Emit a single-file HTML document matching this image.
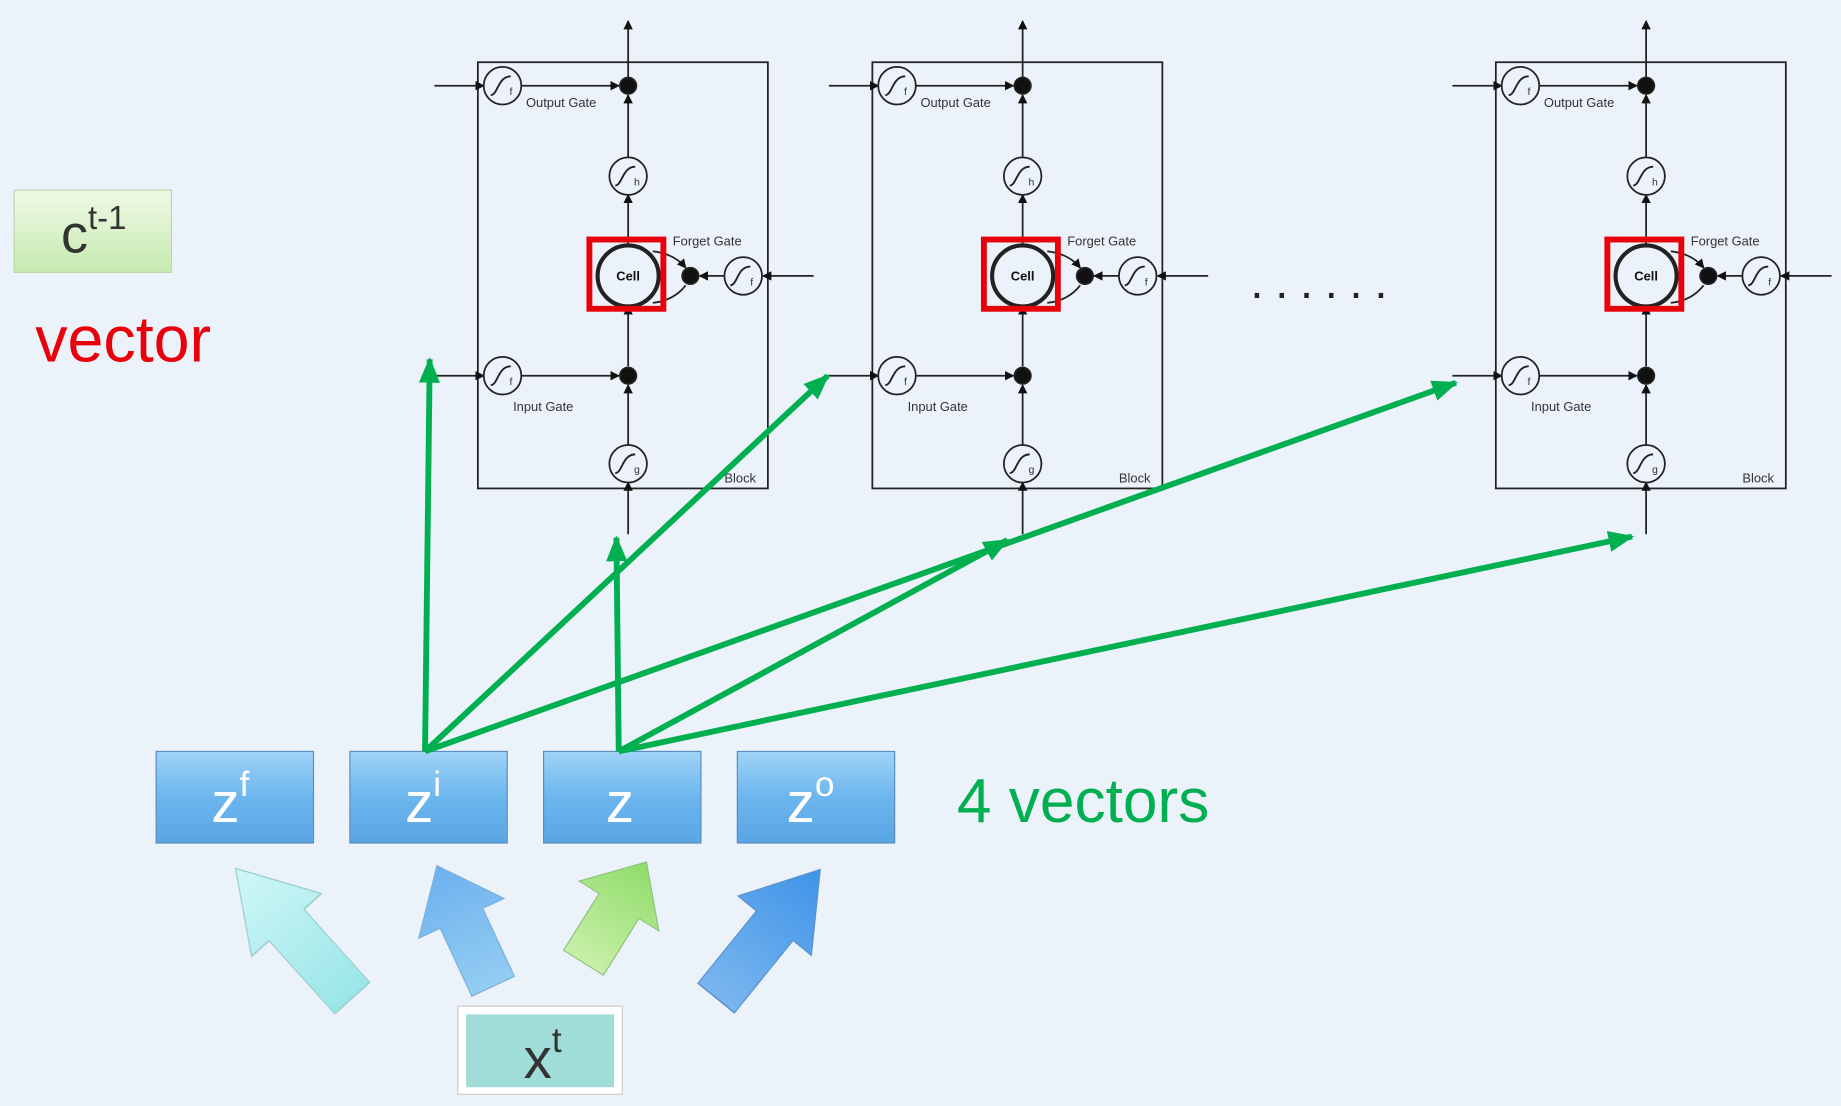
<!DOCTYPE html>
<html><head><meta charset="utf-8"><style>
html,body{margin:0;padding:0;background:#ecf2fa;}
svg{display:block}
</style></head><body>
<svg width="1841" height="1106" viewBox="0 0 1568 942" preserveAspectRatio="none" xmlns="http://www.w3.org/2000/svg" font-family="Liberation Sans, DejaVu Sans, sans-serif">
<defs>
<marker id="ah" markerWidth="8" markerHeight="8" refX="7" refY="4" orient="auto" markerUnits="userSpaceOnUse"><path d="M0,0 L8,4 L0,8 z" fill="#111"/></marker>
<marker id="gh" markerWidth="22" markerHeight="18" refX="20" refY="9" orient="auto" markerUnits="userSpaceOnUse"><path d="M0,0 L22,9 L0,18 z" fill="#00b050"/></marker>
<linearGradient id="blue" x1="0" y1="0" x2="0" y2="1"><stop offset="0" stop-color="#9fd3f7"/><stop offset="0.5" stop-color="#6cb6ee"/><stop offset="1" stop-color="#5aa6e4"/></linearGradient>
<linearGradient id="grn" x1="0" y1="0" x2="0" y2="1"><stop offset="0" stop-color="#f0fae6"/><stop offset="1" stop-color="#c6e9b0"/></linearGradient>
<linearGradient id="a1" x1="0" y1="0" x2="0" y2="1"><stop offset="0" stop-color="#d0f7f7"/><stop offset="1" stop-color="#9ae6e8"/></linearGradient>
<linearGradient id="a2" x1="0" y1="0" x2="0" y2="1"><stop offset="0" stop-color="#6cb0ee"/><stop offset="1" stop-color="#93cdf2"/></linearGradient>
<linearGradient id="a3" x1="0" y1="0" x2="0" y2="1"><stop offset="0" stop-color="#8fdc6a"/><stop offset="1" stop-color="#c8f0a8"/></linearGradient>
<linearGradient id="a4" x1="0" y1="0" x2="0" y2="1"><stop offset="0" stop-color="#3f93e8"/><stop offset="1" stop-color="#7ab6ee"/></linearGradient>
<g id="sig"><path d="M-9,8 C-3,8 -3,-8 8,-8" fill="none" stroke="#222" stroke-width="1.6"/></g>
<g id="blk" stroke="#222" fill="none" stroke-width="1.5">
  <rect x="407" y="53" width="247" height="363"/>
  <line x1="535" y1="66" x2="535" y2="18" marker-end="url(#ah)"/>
  <line x1="370" y1="73" x2="412" y2="73" marker-end="url(#ah)"/>
  <line x1="443" y1="73" x2="527" y2="73" marker-end="url(#ah)"/>
  <line x1="535" y1="135" x2="535" y2="81" marker-end="url(#ah)"/>
  <line x1="535" y1="209" x2="535" y2="166" marker-end="url(#ah)"/>
  <line x1="535" y1="312" x2="535" y2="261" marker-end="url(#ah)"/>
  <line x1="535" y1="380" x2="535" y2="328" marker-end="url(#ah)"/>
  <line x1="535" y1="455" x2="535" y2="411" marker-end="url(#ah)"/>
  <line x1="370" y1="320" x2="412" y2="320" marker-end="url(#ah)"/>
  <line x1="443" y1="320" x2="527" y2="320" marker-end="url(#ah)"/>
  <line x1="693" y1="235" x2="650" y2="235" marker-end="url(#ah)"/>
  <line x1="618" y1="235" x2="596" y2="235" marker-end="url(#ah)"/>
  <path d="M556,214 Q574,216 584,228" marker-end="url(#ah)"/>
  <path d="M584,243 Q574,256 556,258"/>
  <circle cx="428" cy="73" r="16" fill="#ecf2fa"/><use href="#sig" x="427" y="73"/>
  <circle cx="428" cy="320" r="16" fill="#ecf2fa"/><use href="#sig" x="427" y="320"/>
  <circle cx="535" cy="150" r="16" fill="#ecf2fa"/><use href="#sig" x="533" y="150"/>
  <circle cx="535" cy="395" r="16" fill="#ecf2fa"/><use href="#sig" x="533" y="395"/>
  <circle cx="633" cy="235" r="16" fill="#ecf2fa"/><use href="#sig" x="631" y="235"/>
  <circle cx="535" cy="73" r="7" fill="#111"/>
  <circle cx="535" cy="320" r="7" fill="#111"/>
  <circle cx="588" cy="235" r="7" fill="#111"/>
  <circle cx="535" cy="235" r="26" stroke-width="3.5" fill="#ecf2fa"/>
  <rect x="502" y="204" width="63" height="59" stroke="#e8000b" stroke-width="5"/>
  <g fill="#333" stroke="none" font-size="11">
    <text x="448" y="91">Output Gate</text>
    <text x="573" y="209">Forget Gate</text>
    <text x="437" y="350">Input Gate</text>
    <text x="617" y="411">Block</text>
    <text x="434" y="81" font-size="9">f</text><text x="434" y="328" font-size="9">f</text>
    <text x="639" y="243" font-size="9">f</text><text x="540" y="158" font-size="9">h</text><text x="540" y="403" font-size="9">g</text>
    <text x="535" y="239" font-size="11" font-weight="bold" text-anchor="middle" fill="#111">Cell</text>
  </g>
</g>
<path id="barrow" d="M-20,0 L-20,-62 L-40,-62 L0,-110 L40,-62 L20,-62 L20,0 z"/>
</defs>

<use href="#blk"/>
<use href="#blk" x="336"/>
<use href="#blk" x="867"/>
<text x="1065" y="254" font-size="40" fill="#222" letter-spacing="10">......</text>

<!-- c t-1 -->
<rect x="12" y="162" width="134" height="70" fill="url(#grn)" stroke="#b8d8a8"/>
<text x="52" y="215" font-size="46" fill="#333">c<tspan font-size="28" dy="-20">t-1</tspan></text>
<text x="30" y="308" font-size="55" fill="#e8000b">vector</text>

<!-- big arrows -->
<use href="#barrow" fill="url(#a1)" stroke="#9ccfd0" transform="translate(300,850) rotate(-42) scale(1,1.35)"/>
<use href="#barrow" fill="url(#a2)" stroke="#7ab0dc" transform="translate(420,840) rotate(-25) scale(1,1.03)"/>
<use href="#barrow" fill="url(#a3)" stroke="#8fc080" transform="translate(497,820) rotate(32) scale(1,0.92)"/>
<use href="#barrow" fill="url(#a4)" stroke="#5a92d0" transform="translate(610,850) rotate(39) scale(1,1.28)"/>

<!-- z boxes -->
<g font-size="48" fill="#fff">
<rect x="133" y="640" width="134" height="78" fill="url(#blue)" stroke="#5a8cbf"/>
<text x="180" y="700">z<tspan font-size="30" dy="-22">f</tspan></text>
<rect x="298" y="640" width="134" height="78" fill="url(#blue)" stroke="#5a8cbf"/>
<text x="345" y="700">z<tspan font-size="30" dy="-22">i</tspan></text>
<rect x="463" y="640" width="134" height="78" fill="url(#blue)" stroke="#5a8cbf"/>
<text x="516" y="700">z</text>
<rect x="628" y="640" width="134" height="78" fill="url(#blue)" stroke="#5a8cbf"/>
<text x="670" y="700">z<tspan font-size="30" dy="-22">o</tspan></text>
</g>
<text x="815" y="700" font-size="53" fill="#00b050">4 vectors</text>

<!-- x t -->
<rect x="390" y="857" width="140" height="75" fill="#fff" stroke="#ccc"/>
<rect x="397" y="864" width="126" height="62" fill="#a0dcd8"/>
<text x="446" y="918" font-size="48" fill="#333">x<tspan font-size="30" dy="-22">t</tspan></text>

<!-- green arrows -->
<g stroke="#00b050" stroke-width="5" fill="none">
<line x1="362" y1="640" x2="366" y2="306" marker-end="url(#gh)"/>
<line x1="362" y1="640" x2="705" y2="320" marker-end="url(#gh)"/>
<line x1="362" y1="640" x2="1240" y2="326" marker-end="url(#gh)"/>
<line x1="527" y1="640" x2="525" y2="458" marker-end="url(#gh)"/>
<line x1="527" y1="640" x2="858" y2="460" marker-end="url(#gh)"/>
<line x1="527" y1="640" x2="1390" y2="457" marker-end="url(#gh)"/>
</g>
</svg>
</body></html>
